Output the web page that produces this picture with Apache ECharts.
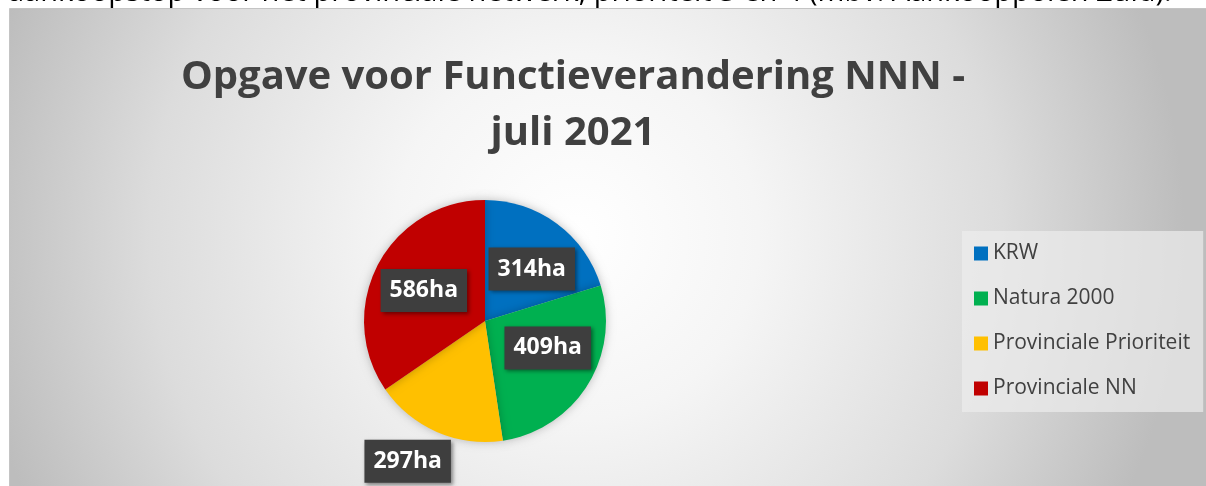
<!DOCTYPE html>
<html>
<head>
<meta charset="utf-8">
<script src="https://cdn.jsdelivr.net/npm/echarts@6/dist/echarts.min.js"></script>
<style>
  html, body { margin: 0; padding: 0; background: #fff; }
  #main { width: 1206px; height: 486px; }
</style>
</head>
<body>
<div id="main"></div>
<script>
// categorieën
const categories = ['KRW', 'Natura 2000', 'Provinciale Prioriteit', 'Provinciale NN'];
// oppervlakte zoals in de labels (ha)
const areaHa = [314, 409, 297, 586];
const sliceDegrees = [73, 98.5, 64, 124.5];
const colors = ['#0070c0', '#00b050', '#ffc000', '#c00000'];
const titleText = 'Opgave voor Functieverandering NNN -\njuli 2021';
const introText = 'aankoopstop voor het provinciale netwerk, prioriteit 3 en 4 (mbv. Aankooppolen Zuid).';

const myChart = echarts.init(document.getElementById('main'));

// label van 297ha staat buiten de taart
const labelOffsets = [[9, -1], [9, -7], [-52, 82], [-5, -1]];

const pieData = categories.map((name, i) => ({
  name: name,
  value: sliceDegrees[i],
  ha: areaHa[i],
  itemStyle: { color: colors[i] },
  label: { offset: labelOffsets[i] },
}));

const option = {
  backgroundColor: '#ffffff',
  animation: false,
  graphic: [
    {
      // grafiekvlak met radiale verloop
      type: 'rect',
      left: 9,
      top: 8,
      z: -10,
      shape: { width: 1205, height: 486 },
      style: {
        fill: {
          type: 'radial',
          x: 0.47, y: 0.47, r: 1.25,
          colorStops: [
            { offset: 0, color: '#ffffff' },
            { offset: 0.3, color: '#f5f5f5' },
            { offset: 0.7, color: '#dcdcdc' },
            { offset: 1, color: '#bdbdbd' },
          ],
        },
        stroke: '#c4c4c4',
        lineWidth: 1,
      },
    },
    {
      type: 'text',
      left: 8,
      top: -22,
      style: {
        text: introText,
        font: '29px "Open Sans", sans-serif',
        fill: '#000',
      },
    },
    {
      type: 'text',
      x: 573,
      y: 50,
      style: {
        text: titleText,
        font: 'bold 40px "Open Sans", sans-serif',
        fill: '#404040',
        align: 'center',
        lineHeight: 56,
      },
    },
  ],
  legend: {
    orient: 'vertical',
    left: 962,
    top: 231,
    data: categories,
    icon: 'rect',
    itemWidth: 14,
    itemHeight: 14,
    itemGap: 24,
    padding: [12, 13, 13, 12],
    backgroundColor: 'rgba(236,236,236,0.7)',
    textStyle: {
      fontSize: 21,
      fontFamily: 'Open Sans',
      color: '#404040',
    },
  },
  series: [
    {
      type: 'pie',
      center: [485, 321],
      radius: 121,
      startAngle: 90,
      clockwise: true,
      data: pieData,
      itemStyle: {
        shadowBlur: 10,
        shadowColor: 'rgba(0,0,0,0.25)',
      },
      label: {
        show: true,
        position: 'inside',
        formatter: (p) => p.data.ha + 'ha',
        color: '#ffffff',
        fontSize: 23,
        fontWeight: 'bold',
        fontFamily: 'Open Sans',
        backgroundColor: '#3e3e3e',
        padding: [11, 9, 9, 9],
        shadowBlur: 4,
        shadowOffsetX: 2,
        shadowOffsetY: 2,
        shadowColor: 'rgba(0,0,0,0.45)',
      },
      labelLine: { show: false },
      emphasis: { disabled: true },
    },
  ],
};

myChart.setOption(option);
</script>
</body>
</html>
